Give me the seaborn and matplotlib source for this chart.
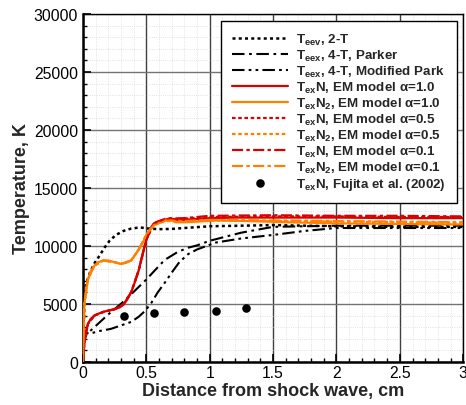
import matplotlib
matplotlib.use("Agg")
import matplotlib.pyplot as plt
import seaborn as sns
import pandas as pd
from matplotlib.ticker import MultipleLocator, FuncFormatter

# ---------------- data ----------------
x_2t = [0, 0.005, 0.016, 0.03, 0.055, 0.09, 0.13, 0.17, 0.21, 0.26, 0.32, 0.38, 0.45, 0.52, 0.6, 0.7, 0.8, 1.0, 1.5, 2.0, 2.5, 3.0]
y_2t = [0, 3000, 6000, 6900, 7700, 8500, 9150, 9850, 10450, 10950, 11300, 11500, 11600, 11500, 11450, 11470, 11550, 11700, 11800, 11700, 11650, 11650]

x_parker = [0, 0.013, 0.03, 0.1, 0.2, 0.33, 0.49, 0.645, 0.75, 0.83, 0.9, 1.0, 1.25, 1.5, 2.0, 2.5, 3.0]
y_parker = [1400, 2000, 2400, 3100, 4100, 5300, 7000, 8800, 9500, 9850, 10050, 10450, 11150, 11650, 11750, 11750, 11750]

x_mpark = [0, 0.01, 0.025, 0.06, 0.12, 0.22, 0.3, 0.38, 0.44, 0.49, 0.54, 0.59, 0.65, 0.7, 0.76, 0.83, 0.9, 1.05, 1.25, 1.5, 1.75, 2.0, 2.5, 3.0]
y_mpark = [1700, 2300, 2500, 2450, 2650, 2850, 3150, 3450, 3900, 4400, 5100, 6000, 6900, 7700, 8600, 9300, 9700, 10300, 10650, 10950, 11300, 11550, 11550, 11550]

x_n_10 = [0, 0.005, 0.013, 0.025, 0.04, 0.06, 0.09, 0.13, 0.17, 0.21, 0.25, 0.29, 0.32, 0.35, 0.38, 0.41, 0.44, 0.47, 0.5, 0.53, 0.56, 0.6, 0.65, 0.69, 0.73, 0.77, 0.85, 1.0, 1.2, 1.5, 2.0, 2.5, 3.0]
y_n_10 = [0, 900, 1800, 2700, 3300, 3700, 4000, 4200, 4350, 4450, 4550, 4700, 4950, 5400, 6000, 6900, 7900, 9300, 10550, 11500, 11950, 12150, 12250, 12400, 12250, 12200, 12300, 12400, 12450, 12450, 12450, 12400, 12400]

x_n2_10 = [0, 0.004, 0.013, 0.025, 0.04, 0.06, 0.09, 0.12, 0.16, 0.2, 0.25, 0.3, 0.34, 0.38, 0.41, 0.44, 0.47, 0.5, 0.53, 0.56, 0.6, 0.65, 0.69, 0.73, 0.8, 0.9, 1.05, 1.3, 1.6, 2.0, 2.5, 3.0]
y_n2_10 = [0, 3500, 5150, 6300, 7150, 7800, 8300, 8600, 8750, 8750, 8600, 8450, 8550, 8750, 9200, 9700, 10250, 10950, 11450, 11800, 12000, 12200, 12330, 12050, 12050, 12100, 12200, 12150, 12050, 11950, 11900, 11850]

x_n_05 = [0, 0.013, 0.04, 0.09, 0.17, 0.25, 0.32, 0.38, 0.44, 0.5, 0.56, 0.65, 0.8, 1.0, 1.5, 2.0, 2.5, 3.0]
y_n_05 = [0, 1800, 3300, 4000, 4350, 4550, 4950, 6000, 7900, 10550, 11950, 12300, 12350, 12500, 12550, 12550, 12500, 12500]

x_n2_05 = [0, 0.013, 0.04, 0.09, 0.16, 0.25, 0.3, 0.38, 0.44, 0.5, 0.56, 0.65, 0.8, 1.0, 1.5, 2.0, 2.5, 3.0]
y_n2_05 = [0, 5150, 7150, 8300, 8750, 8600, 8450, 8750, 9700, 10950, 11800, 12150, 12100, 12200, 12150, 12100, 12050, 12000]

x_n_01 = [0, 0.013, 0.04, 0.09, 0.17, 0.25, 0.32, 0.38, 0.44, 0.5, 0.56, 0.65, 0.8, 1.0, 1.5, 2.0, 2.5, 3.0]
y_n_01 = [0, 1800, 3300, 4000, 4350, 4550, 4950, 6000, 7900, 10550, 11950, 12350, 12400, 12600, 12650, 12600, 12600, 12550]

x_n2_01 = [0, 0.013, 0.04, 0.09, 0.16, 0.25, 0.3, 0.38, 0.44, 0.5, 0.56, 0.65, 0.8, 1.0, 1.5, 2.0, 2.5, 3.0]
y_n2_01 = [0, 5150, 7150, 8300, 8750, 8600, 8450, 8750, 9700, 10950, 11800, 12200, 12150, 12250, 12200, 12150, 12100, 12050]

x_fujita = [0.32, 0.56, 0.80, 1.05, 1.29]
y_fujita = [4000, 4200, 4300, 4400, 4650]

labels = [
    r"T$_{\mathrm{eev}}$, 2-T",
    r"T$_{\mathrm{eex}}$, 4-T, Parker",
    r"T$_{\mathrm{eex}}$, 4-T, Modified Park",
    r"T$_{\mathrm{ex}}$N, EM model α=1.0",
    r"T$_{\mathrm{ex}}$N$_2$, EM model α=1.0",
    r"T$_{\mathrm{ex}}$N, EM model α=0.5",
    r"T$_{\mathrm{ex}}$N$_2$, EM model α=0.5",
    r"T$_{\mathrm{ex}}$N, EM model α=0.1",
    r"T$_{\mathrm{ex}}$N$_2$, EM model α=0.1",
    r"T$_{\mathrm{ex}}$N, Fujita et al. (2002)",
]

# ---------------- style ----------------
sns.set_theme(style="white")
plt.rcParams["font.family"] = ["Liberation Sans", "DejaVu Sans"]
plt.rcParams["mathtext.fontset"] = "custom"
plt.rcParams["mathtext.rm"] = "Liberation Sans:bold"
plt.rcParams["mathtext.it"] = "Liberation Sans:bold"
plt.rcParams["mathtext.bf"] = "Liberation Sans:bold"

RED = "#d90000"
ORANGE = "#ff8000"

fig = plt.figure(figsize=(4.66, 4.06), dpi=100)
ax = fig.add_axes([0.178, 0.106, 0.816, 0.857])

series = [
    (x_2t, y_2t, "black", (0, (1.2, 1.3)), 1.8),
    (x_parker, y_parker, "black", (0, (6, 2.2, 1.3, 2.2)), 1.5),
    (x_mpark, y_mpark, "black", (0, (6, 2, 1.3, 2, 1.3, 2)), 1.5),
    (x_n_10, y_n_10, RED, "-", 1.6),
    (x_n2_10, y_n2_10, ORANGE, "-", 1.6),
    (x_n_05, y_n_05, RED, (0, (1.6, 1.2)), 1.6),
    (x_n2_05, y_n2_05, ORANGE, (0, (1.6, 1.2)), 1.6),
    (x_n_01, y_n_01, RED, (0, (5, 1.5, 1.5, 1.5)), 1.6),
    (x_n2_01, y_n2_01, ORANGE, (0, (5, 1.5, 1.5, 1.5)), 1.6),
]

for (xs, ys, c, ls, lw), lab in zip(series, labels[:9]):
    df = pd.DataFrame({"x": xs, "y": ys})
    sns.lineplot(data=df, x="x", y="y", ax=ax, color=c, linestyle=ls,
                 linewidth=lw, label=lab, sort=False, estimator=None, zorder=3)

dff = pd.DataFrame({"x": x_fujita, "y": y_fujita})
sns.scatterplot(data=dff, x="x", y="y", ax=ax, color="black", s=38,
                edgecolor="black", linewidth=0, label=labels[9], zorder=4)

ax.set_xlim(0, 3)
ax.set_ylim(0, 30000)
ax.xaxis.set_major_locator(MultipleLocator(0.5))
ax.xaxis.set_minor_locator(MultipleLocator(0.1))
ax.yaxis.set_major_locator(MultipleLocator(5000))
ax.yaxis.set_minor_locator(MultipleLocator(1000))
ax.xaxis.set_major_formatter(FuncFormatter(lambda v, p: f"{v:g}"))
ax.yaxis.set_major_formatter(FuncFormatter(lambda v, p: f"{int(v)}"))

ax.grid(True, which="major", axis="x", color="0.25", linewidth=1.0)
ax.grid(True, which="major", axis="y", color="0.45", linewidth=1.0)
ax.grid(True, which="minor", color="0.85", linewidth=0.6, linestyle=":")
ax.set_axisbelow(True)

ax.tick_params(which="both", direction="in", left=True, bottom=True,
               colors="black", labelsize=11.3)
ax.tick_params(axis="x", which="both", pad=2.5)
ax.tick_params(which="major", length=6, width=1.2)
ax.tick_params(which="minor", length=3, width=1.0)
for side in ["left", "bottom"]:
    ax.spines[side].set_linewidth(1.8)
    ax.spines[side].set_color("black")
for side in ["top", "right"]:
    ax.spines[side].set_linewidth(1.0)
    ax.spines[side].set_color("black")

ax.set_xlabel("Distance from shock wave, cm", fontsize=13, fontweight="bold", labelpad=1)
ax.set_ylabel("Temperature, K", fontsize=13, fontweight="bold", labelpad=3)

leg = ax.legend(loc="upper right", prop={"weight": "bold", "size": 9.65},
                frameon=True, fancybox=False, framealpha=1, edgecolor="black",
                handlelength=4.2, handletextpad=0.6, labelspacing=0.07,
                borderpad=0.8, borderaxespad=0.5)
leg.get_frame().set_linewidth(1.0)

fig.savefig("out.png", dpi=100)
